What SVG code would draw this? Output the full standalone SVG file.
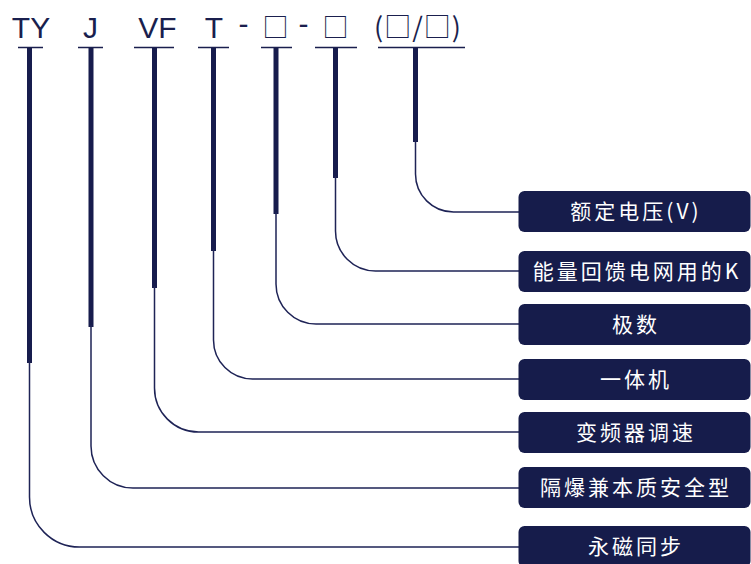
<svg xmlns="http://www.w3.org/2000/svg" width="751" height="564" viewBox="0 0 751 564">
<style>
.code{font-family:"Liberation Sans","Noto Sans CJK SC",sans-serif;font-size:30px;fill:#1a1f4e;text-anchor:middle}
.sq{font-family:"Noto Sans CJK SC",sans-serif;font-size:26px;fill:#1a1f4e;text-anchor:middle}
.ul{stroke:#1a1f4e;stroke-width:1.5;fill:none}
.stem{stroke:#171c4d;stroke-width:5;fill:none}
.wire{stroke:#1e2356;stroke-width:1.5;fill:none}
.box{fill:#161c4b}
.lbl{font-family:"Noto Sans CJK SC",sans-serif;font-size:21px;letter-spacing:3px;fill:#ffffff;text-anchor:middle}
</style>
<rect width="751" height="564" fill="#ffffff"/>
<g id="codes">
<text class="code" x="31" y="38">TY</text>
<text class="code" x="90.5" y="38">J</text>
<text class="code" x="157.5" y="38">VF</text>
<text class="code" x="214" y="38">T</text>
<text class="code" x="243.5" y="34">-</text>
<text class="sq" x="275.5" y="37">□</text>
<text class="code" x="303.5" y="34">-</text>
<text class="sq" x="335.5" y="37">□</text>
<text class="sq" x="418" y="37" style="font-size:27px;letter-spacing:1px">(□/□)</text>
</g>
<g id="connectors">
<line class="ul" x1="18" y1="47.5" x2="43" y2="47.5"/>
<line class="ul" x1="78" y1="47.5" x2="103" y2="47.5"/>
<line class="ul" x1="134" y1="47.5" x2="174" y2="47.5"/>
<line class="ul" x1="198" y1="47.5" x2="229" y2="47.5"/>
<line class="ul" x1="261" y1="47.5" x2="292" y2="47.5"/>
<line class="ul" x1="315" y1="47.5" x2="357" y2="47.5"/>
<line class="ul" x1="378" y1="47.5" x2="465" y2="47.5"/>
<line class="stem" x1="29.5" y1="48" x2="29.5" y2="363"/>
<line class="stem" x1="91" y1="48" x2="91" y2="327"/>
<line class="stem" x1="154.5" y1="48" x2="154.5" y2="288"/>
<line class="stem" x1="213.5" y1="48" x2="213.5" y2="251"/>
<line class="stem" x1="276" y1="48" x2="276" y2="214"/>
<line class="stem" x1="335.5" y1="48" x2="335.5" y2="178"/>
<line class="stem" x1="415.5" y1="48" x2="415.5" y2="142"/>
<path class="wire" d="M29.5 360 V497 A50 50 0 0 0 79.5 547 H519"/>
<path class="wire" d="M91 325 V446 A42 42 0 0 0 133 488 H519"/>
<path class="wire" d="M154.5 286 V388 A44 44 0 0 0 198.5 432 H519"/>
<path class="wire" d="M213.5 249 V340 A39 39 0 0 0 252.5 379 H519"/>
<path class="wire" d="M276 212 V284 A40 40 0 0 0 316 324 H519"/>
<path class="wire" d="M335.5 176 V231 A40 40 0 0 0 375.5 271 H519"/>
<path class="wire" d="M415.5 140 V174 A38 38 0 0 0 453.5 212 H519"/>
</g>
<g id="n-voltage"><rect class="box" x="518.5" y="191" width="232" height="41" rx="6"/><text class="lbl" x="636" y="219">额定电压(V)</text></g>
<g id="n-feedback"><rect class="box" x="518.5" y="251" width="232" height="41" rx="6"/><text class="lbl" x="637" y="279">能量回馈电网用的K</text></g>
<g id="n-poles"><rect class="box" x="518.5" y="304" width="232" height="41" rx="6"/><text class="lbl" x="636" y="332">极数</text></g>
<g id="n-integrated"><rect class="box" x="518.5" y="359" width="232" height="41" rx="6"/><text class="lbl" x="636" y="387">一体机</text></g>
<g id="n-vfd"><rect class="box" x="518.5" y="412" width="232" height="41" rx="6"/><text class="lbl" x="636" y="440">变频器调速</text></g>
<g id="n-explosion"><rect class="box" x="518.5" y="467" width="232" height="41" rx="6"/><text class="lbl" x="636" y="495">隔爆兼本质安全型</text></g>
<g id="n-pm"><rect class="box" x="518.5" y="526" width="232" height="41" rx="6"/><text class="lbl" x="636" y="554">永磁同步</text></g>
</svg>
